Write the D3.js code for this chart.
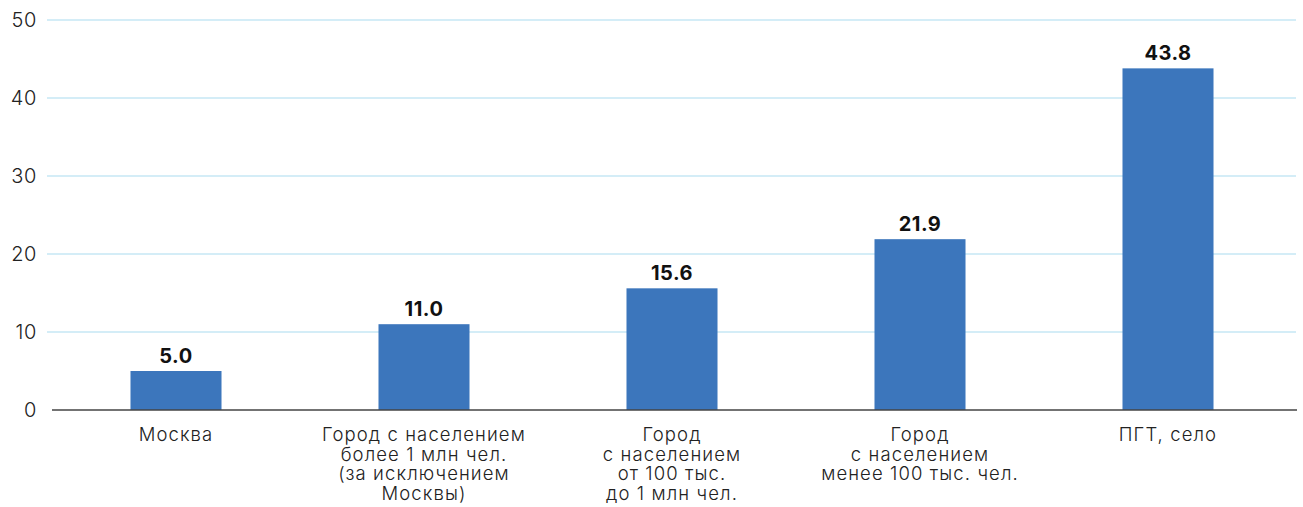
<!DOCTYPE html>
<html><head><meta charset="utf-8">
<script src="https://cdn.jsdelivr.net/npm/d3@7"></script>
<style>body{margin:0;background:#fff;font-family:Inter,"Noto Sans",sans-serif;}</style>
</head><body><svg id="c" width="1303" height="507"></svg>
<script>
const categories = [
  ["Москва"],
  ["Город с населением","более 1 млн чел.","(за исключением","Москвы)"],
  ["Город","с населением","от 100 тыс.","до 1 млн чел."],
  ["Город","с населением","менее 100 тыс. чел."],
  ["ПГТ, село"]
];
const values = [5.0, 11.0, 15.6, 21.9, 43.8];
const yTicks = [0, 10, 20, 30, 40, 50];

const svg = d3.select("#c");
const x = d3.scaleBand().domain(d3.range(values.length)).range([52, 1292]);
const y = d3.scaleLinear().domain([0, 50]).range([410, 20]);
const barW = x.bandwidth() * 0.367;

// grid
svg.append("g").selectAll("line").data(yTicks.filter(d => d > 0)).join("line")
  .attr("x1", 47).attr("x2", 1296)
  .attr("y1", d => y(d)).attr("y2", d => y(d))
  .attr("stroke", "#c6e7f5").attr("stroke-width", 1.5);

// y labels
svg.append("g").selectAll("text").data(yTicks).join("text")
  .attr("x", 37).attr("y", d => y(d)).attr("dy", "0.36em")
  .attr("text-anchor", "end").attr("font-size", 20).attr("font-weight", 300)
  .attr("letter-spacing", 0.6).attr("fill", "#222")
  .text(d => d);

// bars
svg.append("g").selectAll("rect").data(values).join("rect")
  .attr("x", (d, i) => x(i) + x.bandwidth() / 2 - barW / 2)
  .attr("width", barW)
  .attr("y", d => y(d)).attr("height", d => y(0) - y(d))
  .attr("fill", "#3c76bc");

// baseline
svg.append("line").attr("x1", 52).attr("x2", 1297).attr("y1", y(0)).attr("y2", y(0))
  .attr("stroke", "#444").attr("stroke-width", 1.3);

// value labels
svg.append("g").selectAll("text").data(values).join("text")
  .attr("x", (d, i) => x(i) + x.bandwidth() / 2)
  .attr("y", d => y(d) - 8)
  .attr("text-anchor", "middle").attr("font-size", 20).attr("font-weight", 700)
  .attr("letter-spacing", 0.5)
  .attr("fill", "#111").text(d => d.toFixed(1));

// category labels
const cg = svg.append("g").selectAll("text").data(categories).join("text")
  .attr("x", (d, i) => x(i) + x.bandwidth() / 2)
  .attr("y", 441)
  .attr("text-anchor", "middle").attr("font-size", 18.5).attr("font-weight", 300)
  .attr("letter-spacing", 1.1).attr("fill", "#222");
cg.selectAll("tspan").data(d => d).join("tspan")
  .attr("x", function() { return this.parentNode.getAttribute("x"); })
  .attr("dy", (d, i) => i === 0 ? 0 : 19.7)
  .text(d => d);
</script></body></html>
